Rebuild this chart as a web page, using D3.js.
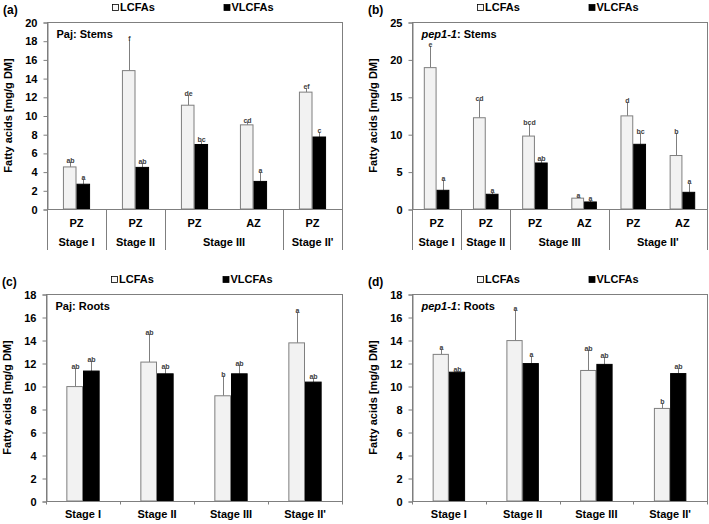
<!DOCTYPE html>
<html>
<head>
<meta charset="utf-8">
<script src="https://cdn.jsdelivr.net/npm/d3@7"></script>
<style>
  body { margin: 0; background: #fff; }
  svg text { font-family: "Liberation Sans", Arial, sans-serif; font-weight: bold; }
</style>
</head>
<body>
<div class="figure"></div>
<script>
// ---- data ----
const seriesNames = ["LCFAs", "VLCFAs"]

// (a) Paj: Stems
const pajStemZones = ["PZ", "PZ", "PZ", "AZ", "PZ"]
const pajStemStages = ["Stage I", "Stage II", "Stage III", "Stage III", "Stage II'"]
const pajStemLCFA = [4.5, 14.8, 11.1, 9.0, 12.5]
const pajStemLCFAErr = [0.55, 3.3, 1.1, 0.35, 0.4]
const pajStemVLCFA = [2.65, 4.45, 6.9, 2.95, 7.7]
const pajStemVLCFAErr = [0.6, 0.5, 0.35, 1.0, 0.5]
const pajStemLCFALetters = ["ab", "f", "de", "cd", "ef"]
const pajStemVLCFALetters = ["a", "ab", "bc", "a", "c"]
const pajStemTicks = [0, 2, 4, 6, 8, 10, 12, 14, 16, 18, 20]

// (b) pep1-1: Stems
const pepStemZones = ["PZ", "PZ", "PZ", "AZ", "PZ", "AZ"]
const pepStemStages = ["Stage I", "Stage II", "Stage III", "Stage III", "Stage II'", "Stage II'"]
const pepStemLCFA = [18.9, 12.2, 9.75, 1.45, 12.45, 7.15]
const pepStemLCFAErr = [2.9, 2.35, 1.6, 0.2, 1.85, 3.0]
const pepStemVLCFA = [2.5, 1.97, 6.15, 0.94, 8.65, 2.23]
const pepStemVLCFAErr = [1.4, 0.3, 0.45, 0.2, 1.5, 1.2]
const pepStemLCFALetters = ["e", "cd", "bcd", "a", "d", "b"]
const pepStemVLCFALetters = ["a", "a", "ab", "a", "bc", "a"]
const pepStemTicks = [0, 5, 10, 15, 20, 25]

// (c) Paj: Roots
const rootStages = ["Stage I", "Stage II", "Stage III", "Stage II'"]
const pajRootLCFA = [9.95, 12.08, 9.15, 13.75]
const pajRootLCFAErr = [1.6, 2.45, 1.75, 2.7]
const pajRootVLCFA = [11.3, 11.06, 11.06, 10.34]
const pajRootVLCFAErr = [0.9, 0.5, 0.8, 0.35]
const pajRootLCFALetters = ["ab", "ab", "b", "a"]
const pajRootVLCFALetters = ["ab", "ab", "ab", "ab"]

// (d) pep1-1: Roots
const pepRootLCFA = [12.75, 13.95, 11.35, 8.05]
const pepRootLCFAErr = [0.5, 2.7, 1.8, 0.45]
const pepRootVLCFA = [11.2, 11.95, 11.88, 11.08]
const pepRootVLCFAErr = [0.12, 0.65, 0.65, 0.45]
const pepRootLCFALetters = ["a", "a", "ab", "b"]
const pepRootVLCFALetters = ["ab", "a", "ab", "ab"]
const rootTicks = [0, 2, 4, 6, 8, 10, 12, 14, 16, 18]

// ---- drawing ----
const width = 709
const height = 524
const grey = "#7f7f7f"

const svg = d3.select(".figure")
  .append("svg")
  .attr("width", width)
  .attr("height", height)

function drawPanel(p) {
  const n = p.lcfa.length
  const g = svg.append("g")

  const x = d3.scaleBand()
    .domain(d3.range(n))
    .range([p.left, p.right])

  // two bars per category, side by side
  const inner = d3.scaleBand()
    .domain([0, 1])
    .range([0, x.bandwidth()])
    .paddingOuter(1 / p.barFrac - 1)

  const y = d3.scaleLinear()
    .domain([0, d3.max(p.ticks)])
    .range([p.bottom, p.top])

  // plot frame
  g.append("rect")
    .attr("x", p.left + 0.5)
    .attr("y", p.top + 0.5)
    .attr("width", p.right - p.left)
    .attr("height", p.bottom - p.top)
    .attr("fill", "none")
    .attr("stroke", grey)

  // y axis
  const yAxis = g.append("g")
    .attr("transform", `translate(${p.left + 0.5},0.5)`)
    .call(d3.axisLeft(y).tickValues(p.ticks).tickSize(4).tickPadding(6))
  yAxis.select(".domain").attr("stroke", grey)
  yAxis.selectAll(".tick line").attr("stroke", grey)
  yAxis.selectAll(".tick text")
    .attr("font-size", 11)
    .attr("font-family", "Liberation Sans, Arial, sans-serif")
    .attr("font-weight", "bold")
    .attr("fill", "#000")

  // y title
  g.append("text")
    .attr("transform", `translate(${p.left - 35},${(p.top + p.bottom) / 2}) rotate(-90)`)
    .attr("text-anchor", "middle")
    .attr("font-size", 11)
    .text("Fatty acids [mg/g DM]")

  // bars
  const series = [
    { vals: p.lcfa, errs: p.lcfaErr, letters: p.lcfaLetters, fill: "#f2f2f2", stroke: grey },
    { vals: p.vlcfa, errs: p.vlcfaErr, letters: p.vlcfaLetters, fill: "#000", stroke: "#000" }
  ]

  series.forEach((s, si) => {
    const rows = s.vals.map((v, i) => ({ i, v, e: s.errs[i], l: s.letters[i] }))
    const cx = d => x(d.i) + inner(si) + inner.bandwidth() / 2

    g.selectAll(null)
      .data(rows)
      .enter()
      .append("line")
      .attr("x1", d => Math.round(cx(d)) + 0.5).attr("x2", d => Math.round(cx(d)) + 0.5)
      .attr("y1", d => y(d.v)).attr("y2", d => y(d.v + d.e))
      .attr("stroke", grey)

    g.selectAll(null)
      .data(rows)
      .enter()
      .append("rect")
      .attr("x", d => x(d.i) + inner(si) + 0.5)
      .attr("y", d => y(d.v))
      .attr("width", inner.bandwidth() - 1)
      .attr("height", d => y(0) - y(d.v))
      .attr("fill", s.fill)
      .attr("stroke", s.stroke)

    g.selectAll(null)
      .data(rows)
      .enter()
      .append("text")
      .attr("x", d => Math.round(cx(d)) + 0.5)
      .attr("y", d => y(d.v + d.e) + 1)
      .attr("text-anchor", "middle")
      .attr("font-size", 7)
      .attr("fill", "#404040")
      .text(d => d.l)
  })

  // x axis line
  g.append("line")
    .attr("x1", p.left).attr("x2", p.right + 1)
    .attr("y1", y(0) + 0.5).attr("y2", y(0) + 0.5)
    .attr("stroke", grey)

  if (p.zones) {
    // two-level category axis: zone over stage, separators between stages
    g.selectAll(null)
      .data(p.zones)
      .enter()
      .append("text")
      .attr("x", (d, i) => x(i) + x.bandwidth() / 2)
      .attr("y", y(0) + 18)
      .attr("text-anchor", "middle")
      .attr("font-size", 11)
      .text(d => d)

    const groups = []
    p.stages.forEach((s, i) => {
      const last = groups[groups.length - 1]
      if (last && last.label === s) last.end = i
      else groups.push({ label: s, start: i, end: i })
    })

    const bounds = [p.left].concat(groups.map(gr => x(gr.end) + x.bandwidth()))
    g.selectAll(null)
      .data(bounds)
      .enter()
      .append("line")
      .attr("x1", d => Math.round(d) + 0.5).attr("x2", d => Math.round(d) + 0.5)
      .attr("y1", y(0)).attr("y2", y(0) + 41)
      .attr("stroke", grey)

    g.selectAll(null)
      .data(groups)
      .enter()
      .append("text")
      .attr("x", d => (x(d.start) + x(d.end) + x.bandwidth()) / 2)
      .attr("y", y(0) + 37)
      .attr("text-anchor", "middle")
      .attr("font-size", 11)
      .text(d => d.label)
  } else {
    const bounds = d3.range(n + 1).map(i => i < n ? x(i) : p.right)
    g.selectAll(null)
      .data(bounds)
      .enter()
      .append("line")
      .attr("x1", d => Math.round(d) + 0.5).attr("x2", d => Math.round(d) + 0.5)
      .attr("y1", y(0)).attr("y2", y(0) + 3.5)
      .attr("stroke", grey)

    g.selectAll(null)
      .data(p.stages)
      .enter()
      .append("text")
      .attr("x", (d, i) => x(i) + x.bandwidth() / 2)
      .attr("y", y(0) + 16.5)
      .attr("text-anchor", "middle")
      .attr("font-size", 11)
      .text(d => d)
  }

  // inner title
  const title = g.append("text")
    .attr("x", p.left + 9.5)
    .attr("y", p.top + 16)
    .attr("font-size", 11)
  title.append("tspan")
    .attr("font-style", p.italic ? "italic" : "normal")
    .text(p.genotype)
  title.append("tspan").text(": " + p.organ)

  // panel letter
  g.append("text")
    .attr("x", p.left - 44)
    .attr("y", p.top - 8)
    .attr("font-size", 12)
    .text(p.letter)

  // legend
  const legendX = [p.left + 65, p.left + 176.5]
  seriesNames.forEach((name, i) => {
    g.append("rect")
      .attr("x", legendX[i] + 0.5)
      .attr("y", p.top - 17.5)
      .attr("width", 6)
      .attr("height", 6)
      .attr("fill", i === 0 ? "#f8f8f8" : "#000")
      .attr("stroke", "#000")
      .attr("stroke-width", 0.8)
    g.append("text")
      .attr("x", legendX[i] + 8)
      .attr("y", p.top - 11)
      .attr("font-size", 11)
      .text(name)
  })
}

drawPanel({
  letter: "(a)", genotype: "Paj", organ: "Stems", italic: false,
  left: 47, right: 342, top: 22, bottom: 209, barFrac: 0.46,
  ticks: pajStemTicks, zones: pajStemZones, stages: pajStemStages,
  lcfa: pajStemLCFA, lcfaErr: pajStemLCFAErr, lcfaLetters: pajStemLCFALetters,
  vlcfa: pajStemVLCFA, vlcfaErr: pajStemVLCFAErr, vlcfaLetters: pajStemVLCFALetters
})

drawPanel({
  letter: "(b)", genotype: "pep1-1", organ: "Stems", italic: true,
  left: 412, right: 707, top: 22, bottom: 209, barFrac: 0.52,
  ticks: pepStemTicks, zones: pepStemZones, stages: pepStemStages,
  lcfa: pepStemLCFA, lcfaErr: pepStemLCFAErr, lcfaLetters: pepStemLCFALetters,
  vlcfa: pepStemVLCFA, vlcfaErr: pepStemVLCFAErr, vlcfaLetters: pepStemVLCFALetters
})

drawPanel({
  letter: "(c)", genotype: "Paj", organ: "Roots", italic: false,
  left: 46, right: 342, top: 294, bottom: 501, barFrac: 0.45,
  ticks: rootTicks, zones: null, stages: rootStages,
  lcfa: pajRootLCFA, lcfaErr: pajRootLCFAErr, lcfaLetters: pajRootLCFALetters,
  vlcfa: pajRootVLCFA, vlcfaErr: pajRootVLCFAErr, vlcfaLetters: pajRootVLCFALetters
})

drawPanel({
  letter: "(d)", genotype: "pep1-1", organ: "Roots", italic: true,
  left: 412, right: 707, top: 294, bottom: 501, barFrac: 0.44,
  ticks: rootTicks, zones: null, stages: rootStages,
  lcfa: pepRootLCFA, lcfaErr: pepRootLCFAErr, lcfaLetters: pepRootLCFALetters,
  vlcfa: pepRootVLCFA, vlcfaErr: pepRootVLCFAErr, vlcfaLetters: pepRootVLCFALetters
})
</script>
</body>
</html>
